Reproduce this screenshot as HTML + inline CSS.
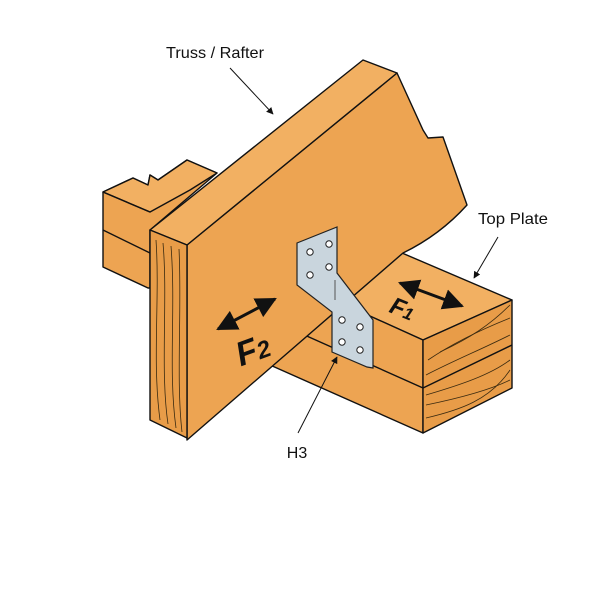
<!DOCTYPE html>
<html><head><style>
html,body{margin:0;padding:0;background:#fff;width:600px;height:600px;overflow:hidden}
svg{display:block}
text{font-family:"Liberation Sans",sans-serif}
</style></head><body>
<svg width="600" height="600" viewBox="0 0 600 600" xmlns="http://www.w3.org/2000/svg">
<defs>
<marker id="ah" viewBox="0 0 10 10" refX="9" refY="5" markerWidth="7" markerHeight="7" orient="auto-start-reverse"><path d="M0,0 L10,5 L0,10 z" fill="#111"/></marker>
</defs>
<g stroke="#111" stroke-width="1.4" stroke-linejoin="round">
<!-- back plate left -->
<polygon points="103,192 133,178 148,185 150,175 158,180 187,160 217,173 150,230 150,288 148,288 103,267" fill="#EDA452"/>
<polygon points="103,192 133,178 148,185 150,175 158,180 187,160 217,173 190,190 150,212" fill="#F2B062"/>
<line x1="103" y1="230" x2="150" y2="253"/>
<line x1="103" y1="192" x2="150" y2="212"/>
<!-- right top plate -->
<polygon points="395,250 512,300 423,340 330,298" fill="#F2B062"/>
<polygon points="330,298 423,340 423,433 270,365 300,320" fill="#EDA452"/>
<line x1="423" y1="388" x2="300" y2="333"/>
<polygon points="423,340 512,300 512,388 423,433" fill="#E89C48"/>
<line x1="423" y1="388" x2="512" y2="345"/>
<!-- rafter side -->
<path d="M187,245 L397,73 L423,130 L428,138 L443,137 L467,205 Q440,235 403,253 L187,440 Z" fill="#EDA452"/>
<!-- rafter top -->
<polygon points="150,230 363,60 397,73 187,245" fill="#F2B062"/>
<!-- rafter end -->
<polygon points="150,230 187,245 187,438 150,420" fill="#E89C48"/>
</g>
<!-- grain -->
<g stroke="#3a2a10" stroke-width="0.8" fill="none">
<path d="M156,240 C160,300 152,360 160,420"/>
<path d="M163,243 C168,300 160,370 168,424"/>
<path d="M171,246 C176,310 168,370 176,428"/>
<path d="M179,249 C182,310 176,380 182,432"/>
<path d="M428,360 C450,345 480,330 510,318"/>
<path d="M426,375 C455,360 480,350 510,335"/>
<path d="M440,352 C470,338 490,325 510,305"/>
<path d="M426,405 C460,398 490,390 510,380"/>
<path d="M426,418 C460,410 490,400 510,370"/>
<path d="M426,395 C460,385 490,375 510,360"/>
</g>
<!-- bracket -->
<polygon points="297,243 337,227 337,273 373,320 373,368 367,367 332,352 332,312 297,285" fill="#C9D5DD" stroke="#222" stroke-width="1.2"/>
<line x1="335" y1="280" x2="335" y2="300" stroke="#555"/>
<g fill="#fff" stroke="#222" stroke-width="1">
<circle cx="310" cy="252" r="3.2"/><circle cx="329" cy="244" r="3.2"/>
<circle cx="310" cy="275" r="3.2"/><circle cx="329" cy="267" r="3.2"/>
<circle cx="342" cy="320" r="3.2"/><circle cx="360" cy="327" r="3.2"/>
<circle cx="342" cy="342" r="3.2"/><circle cx="360" cy="350" r="3.2"/>
</g>
<!-- force arrows -->
<g stroke="#111">
<line x1="218" y1="329" x2="275" y2="299" marker-start="url(#ah)" marker-end="url(#ah)" stroke-width="3"/>
<line x1="400" y1="283" x2="462" y2="306" marker-start="url(#ah)" marker-end="url(#ah)" stroke-width="3"/>
</g>
<text x="234" y="362" font-size="34" font-weight="bold" font-style="italic" fill="#111" transform="rotate(-20 250 345)">F<tspan font-size="24">2</tspan></text>
<text x="390" y="318" font-size="24" font-weight="bold" font-style="italic" fill="#111" transform="rotate(22 405 310)">F<tspan font-size="17">1</tspan></text>
<!-- labels -->
<g stroke="#111" stroke-width="1" fill="none">
<line x1="230" y1="68" x2="273" y2="114" marker-end="url(#ah)"/>
<line x1="498" y1="237" x2="474" y2="278" marker-end="url(#ah)"/>
<line x1="298" y1="433" x2="337" y2="357" marker-end="url(#ah)"/>
</g>
<text x="215" y="58" font-size="16" text-anchor="middle" fill="#111" textLength="98" lengthAdjust="spacingAndGlyphs">Truss / Rafter</text>
<text x="478" y="224" font-size="16" fill="#111" textLength="70" lengthAdjust="spacingAndGlyphs">Top Plate</text>
<text x="297" y="458" font-size="16" text-anchor="middle" fill="#111">H3</text>
</svg>
</body></html>
